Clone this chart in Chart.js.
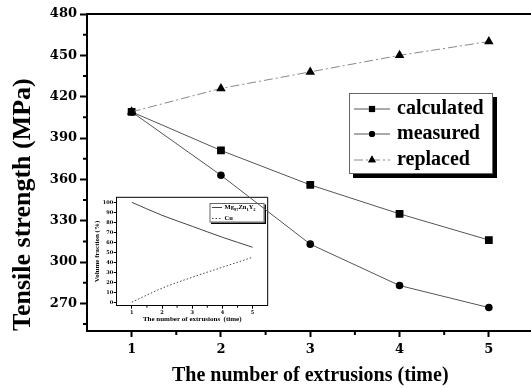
<!DOCTYPE html>
<html>
<head>
<meta charset="utf-8">
<script src="https://cdn.jsdelivr.net/npm/chart.js@4.4.1/dist/chart.umd.min.js"></script>
<style>
  html, body { margin: 0; padding: 0; background: #fff; overflow: hidden; }
  #wrap { position: relative; width: 531px; height: 388px; overflow: hidden; }
  #insetChart { position: absolute; left: 85px; top: 192px; }
  #mainChart { position: absolute; left: 0; top: 0; }
</style>
</head>
<body>
<div id="wrap">
  <canvas id="insetChart" width="190" height="135"></canvas>
  <canvas id="mainChart" width="540" height="388"></canvas>
</div>
<script>
// --- data ---
const extrusions = [1, 2, 3, 4, 5];
const calculated = [409, 381, 356, 335, 316];
const measured   = [409, 363, 313, 283, 267];
const replaced   = [409, 426, 438, 450, 460];
const yTicks      = [270, 300, 330, 360, 390, 420, 450, 480];
const yMinorTicks = [255, 285, 315, 345, 375, 405, 435, 465];
const xMinorTicks = [1.5, 2.5, 3.5, 4.5];

// inset: volume fraction
const mgPhase = [100, 87, 76, 65, 55];
const cuPhase = [0, 14, 25, 35, 45];
const insetYTicks = [0, 10, 20, 30, 40, 50, 60, 70, 80, 90, 100];

const SERIF = '"DejaVu Serif", serif';
const TIMES = '"Liberation Serif", "Times New Roman", serif';

const pts = (xs, ys) => xs.map((x, i) => ({ x: x, y: ys[i] }));

// minor ticks + top / right frame lines
const framePlugin = {
  id: 'frame',
  afterDraw(chart, args, opts) {
    const ctx = chart.ctx, a = chart.chartArea;
    const sx = chart.scales.x, sy = chart.scales.y;
    ctx.save();
    ctx.strokeStyle = '#000';
    ctx.lineWidth = opts.width;
    ctx.beginPath();
    (opts.xMinor || []).forEach(v => {
      const px = sx.getPixelForValue(v);
      ctx.moveTo(px, a.bottom); ctx.lineTo(px, a.bottom + opts.minorLen);
    });
    (opts.yMinor || []).forEach(v => {
      const py = sy.getPixelForValue(v);
      ctx.moveTo(a.left, py); ctx.lineTo(a.left - opts.minorLen, py);
    });
    ctx.stroke();
    ctx.beginPath();
    ctx.moveTo(a.left - opts.width / 2, a.top);
    ctx.lineTo(opts.boxed ? a.right : chart.width, a.top);
    if (opts.boxed) ctx.lineTo(a.right, a.bottom);
    ctx.stroke();
    ctx.restore();
  }
};

// legend drawn as a shadowed box
const boxLegendPlugin = {
  id: 'boxLegend',
  afterDraw(chart, args, opts) {
    const ctx = chart.ctx;
    const b = opts.box;
    ctx.save();
    ctx.fillStyle = '#000';
    ctx.fillRect(b.x + opts.shadow, b.y + opts.shadow, b.w, b.h);
    ctx.fillStyle = '#fff';
    ctx.fillRect(b.x, b.y, b.w, b.h);
    ctx.strokeStyle = '#666';
    ctx.lineWidth = 1;
    ctx.strokeRect(b.x + 0.5, b.y + 0.5, b.w - 1, b.h - 1);
    opts.items.forEach(it => {
      const ds = chart.data.datasets[it.ds];
      ctx.strokeStyle = ds.borderColor;
      ctx.lineWidth = ds.borderWidth;
      ctx.setLineDash(ds.borderDash || []);
      ctx.beginPath();
      ctx.moveTo(opts.lineX0, it.y);
      ctx.lineTo(opts.lineX1, it.y);
      ctx.stroke();
      ctx.setLineDash([]);
      if (ds.pointRadius) {
        Chart.helpers.drawPoint(ctx, {
          pointStyle: ds.pointStyle, radius: ds.pointRadius * 0.8, borderWidth: 0
        }, (opts.lineX0 + opts.lineX1) / 2, it.y);
        ctx.fillStyle = '#000';
        ctx.fill();
      }
      ctx.fillStyle = '#000';
      ctx.textBaseline = 'middle';
      let x = opts.textX;
      it.parts.forEach(p => {
        const size = p.sub ? opts.fontSize * 0.7 : opts.fontSize;
        ctx.font = 'bold ' + size + 'px ' + opts.family;
        ctx.fillText(p.t, x, it.y + (p.sub ? opts.fontSize * 0.3 : 0));
        x += ctx.measureText(p.t).width;
      });
    });
    ctx.restore();
  }
};

new Chart(document.getElementById('mainChart'), {
  type: 'line',
  data: {
    datasets: [
      { label: 'calculated', data: pts(extrusions, calculated), order: 2,
        borderColor: '#555', borderWidth: 1, pointStyle: 'rect', pointRadius: 5.5,
        pointBackgroundColor: '#000', pointBorderWidth: 0 },
      { label: 'measured', data: pts(extrusions, measured), order: 1,
        borderColor: '#555', borderWidth: 1, pointStyle: 'circle', pointRadius: 3.8,
        pointBackgroundColor: '#000', pointBorderWidth: 0 },
      { label: 'replaced', data: pts(extrusions, replaced), order: 0,
        borderColor: '#888', borderWidth: 1, borderDash: [9, 3, 2, 3],
        pointStyle: 'triangle', pointRadius: 5.5,
        pointBackgroundColor: '#000', pointBorderWidth: 0 }
    ]
  },
  options: {
    responsive: false,
    animation: false,
    layout: { padding: { top: 14, right: 6.5, left: 0, bottom: 0 } },
    plugins: {
      legend: { display: false },
      tooltip: { enabled: false },
      frame: { width: 2, minorLen: 4, xMinor: xMinorTicks, yMinor: yMinorTicks, boxed: false },
      boxLegend: {
        box: { x: 349, y: 93, w: 144, h: 81 }, shadow: 4,
        lineX0: 354, lineX1: 390, textX: 397, fontSize: 20, family: TIMES,
        items: [
          { ds: 0, y: 109, parts: [{ t: 'calculated' }] },
          { ds: 1, y: 134, parts: [{ t: 'measured' }] },
          { ds: 2, y: 160, parts: [{ t: 'replaced' }] }
        ]
      }
    },
    scales: {
      x: {
        type: 'linear', min: 0.5, max: 5.5,
        afterBuildTicks: s => { s.ticks = extrusions.map(v => ({ value: v })); },
        afterFit: s => { s.height = 57; },
        border: { color: '#000', width: 2 },
        grid: { drawOnChartArea: false, tickLength: 6, tickColor: '#000', tickWidth: 2 },
        ticks: { color: '#000', padding: 5, font: { family: SERIF, size: 13, weight: 'bold' } },
        title: { display: true, text: 'The number of extrusions (time)', color: '#000',
          padding: { top: 0, bottom: 0 }, font: { family: TIMES, size: 20, weight: 'bold' } }
      },
      y: {
        min: 250, max: 480,
        afterBuildTicks: s => { s.ticks = yTicks.map(v => ({ value: v })); },
        afterFit: s => { s.width = 87; },
        border: { color: '#000', width: 2 },
        grid: { drawOnChartArea: false, tickLength: 7, tickColor: '#000', tickWidth: 2 },
        ticks: { color: '#000', padding: 3, font: { family: SERIF, size: 13, weight: 'bold' } },
        title: { display: true, text: 'Tensile strength (MPa)', color: '#000', align: 'start',
          padding: { top: 8, bottom: 0 }, font: { family: TIMES, size: 26, weight: 'bold' } }
      }
    }
  },
  plugins: [framePlugin, boxLegendPlugin]
});

new Chart(document.getElementById('insetChart'), {
  type: 'line',
  data: {
    datasets: [
      { label: 'Mg97Zn1Y2', data: pts(extrusions, mgPhase), borderColor: '#444',
        borderWidth: 1, cubicInterpolationMode: 'monotone', pointRadius: 0 },
      { label: 'Cu', data: pts(extrusions, cuPhase), borderColor: '#444',
        borderWidth: 1, borderDash: [1.5, 2], cubicInterpolationMode: 'monotone', pointRadius: 0 }
    ]
  },
  options: {
    responsive: false,
    animation: false,
    layout: { padding: { top: 5.3, right: 7.3, left: 0, bottom: 0 } },
    plugins: {
      legend: { display: false },
      tooltip: { enabled: false },
      frame: { width: 1, minorLen: 2, xMinor: xMinorTicks, boxed: true },
      boxLegend: {
        box: { x: 124.5, y: 11, w: 55, h: 19.5 }, shadow: 1.5,
        lineX0: 127, lineX1: 137, textX: 139.5, fontSize: 6.5, family: TIMES,
        items: [
          { ds: 0, y: 15.5, parts: [{ t: 'Mg' }, { t: '97', sub: true }, { t: 'Zn' }, { t: '1', sub: true }, { t: 'Y' }, { t: '2', sub: true }] },
          { ds: 1, y: 26.5, parts: [{ t: 'Cu' }] }
        ]
      }
    },
    scales: {
      x: {
        type: 'linear', min: 0.5, max: 5.5,
        afterBuildTicks: s => { s.ticks = extrusions.map(v => ({ value: v })); },
        afterFit: s => { s.height = 21.3; },
        border: { color: '#000', width: 1 },
        grid: { drawOnChartArea: false, tickLength: 3, tickColor: '#000', tickWidth: 1 },
        ticks: { color: '#000', padding: 1, font: { family: SERIF, size: 5, weight: 'bold' } },
        title: { display: true, text: 'The number of extrusions  (time)', color: '#000',
          padding: { top: 0, bottom: 4 }, font: { family: TIMES, size: 7, weight: 'bold' } }
      },
      y: {
        min: -3.5, max: 105,
        afterBuildTicks: s => { s.ticks = insetYTicks.map(v => ({ value: v })); },
        afterFit: s => { s.width = 31.7; },
        border: { color: '#000', width: 1 },
        grid: { drawOnChartArea: false, tickLength: 3, tickColor: '#000', tickWidth: 1 },
        ticks: { color: '#000', padding: 0.5, font: { family: SERIF, size: 5, weight: 'bold' } },
        title: { display: true, text: 'Volume fraction (%)', color: '#000',
          padding: { top: 8, bottom: 0 }, font: { family: TIMES, size: 7, weight: 'bold' } }
      }
    }
  },
  plugins: [framePlugin, boxLegendPlugin]
});
</script>
</body>
</html>
